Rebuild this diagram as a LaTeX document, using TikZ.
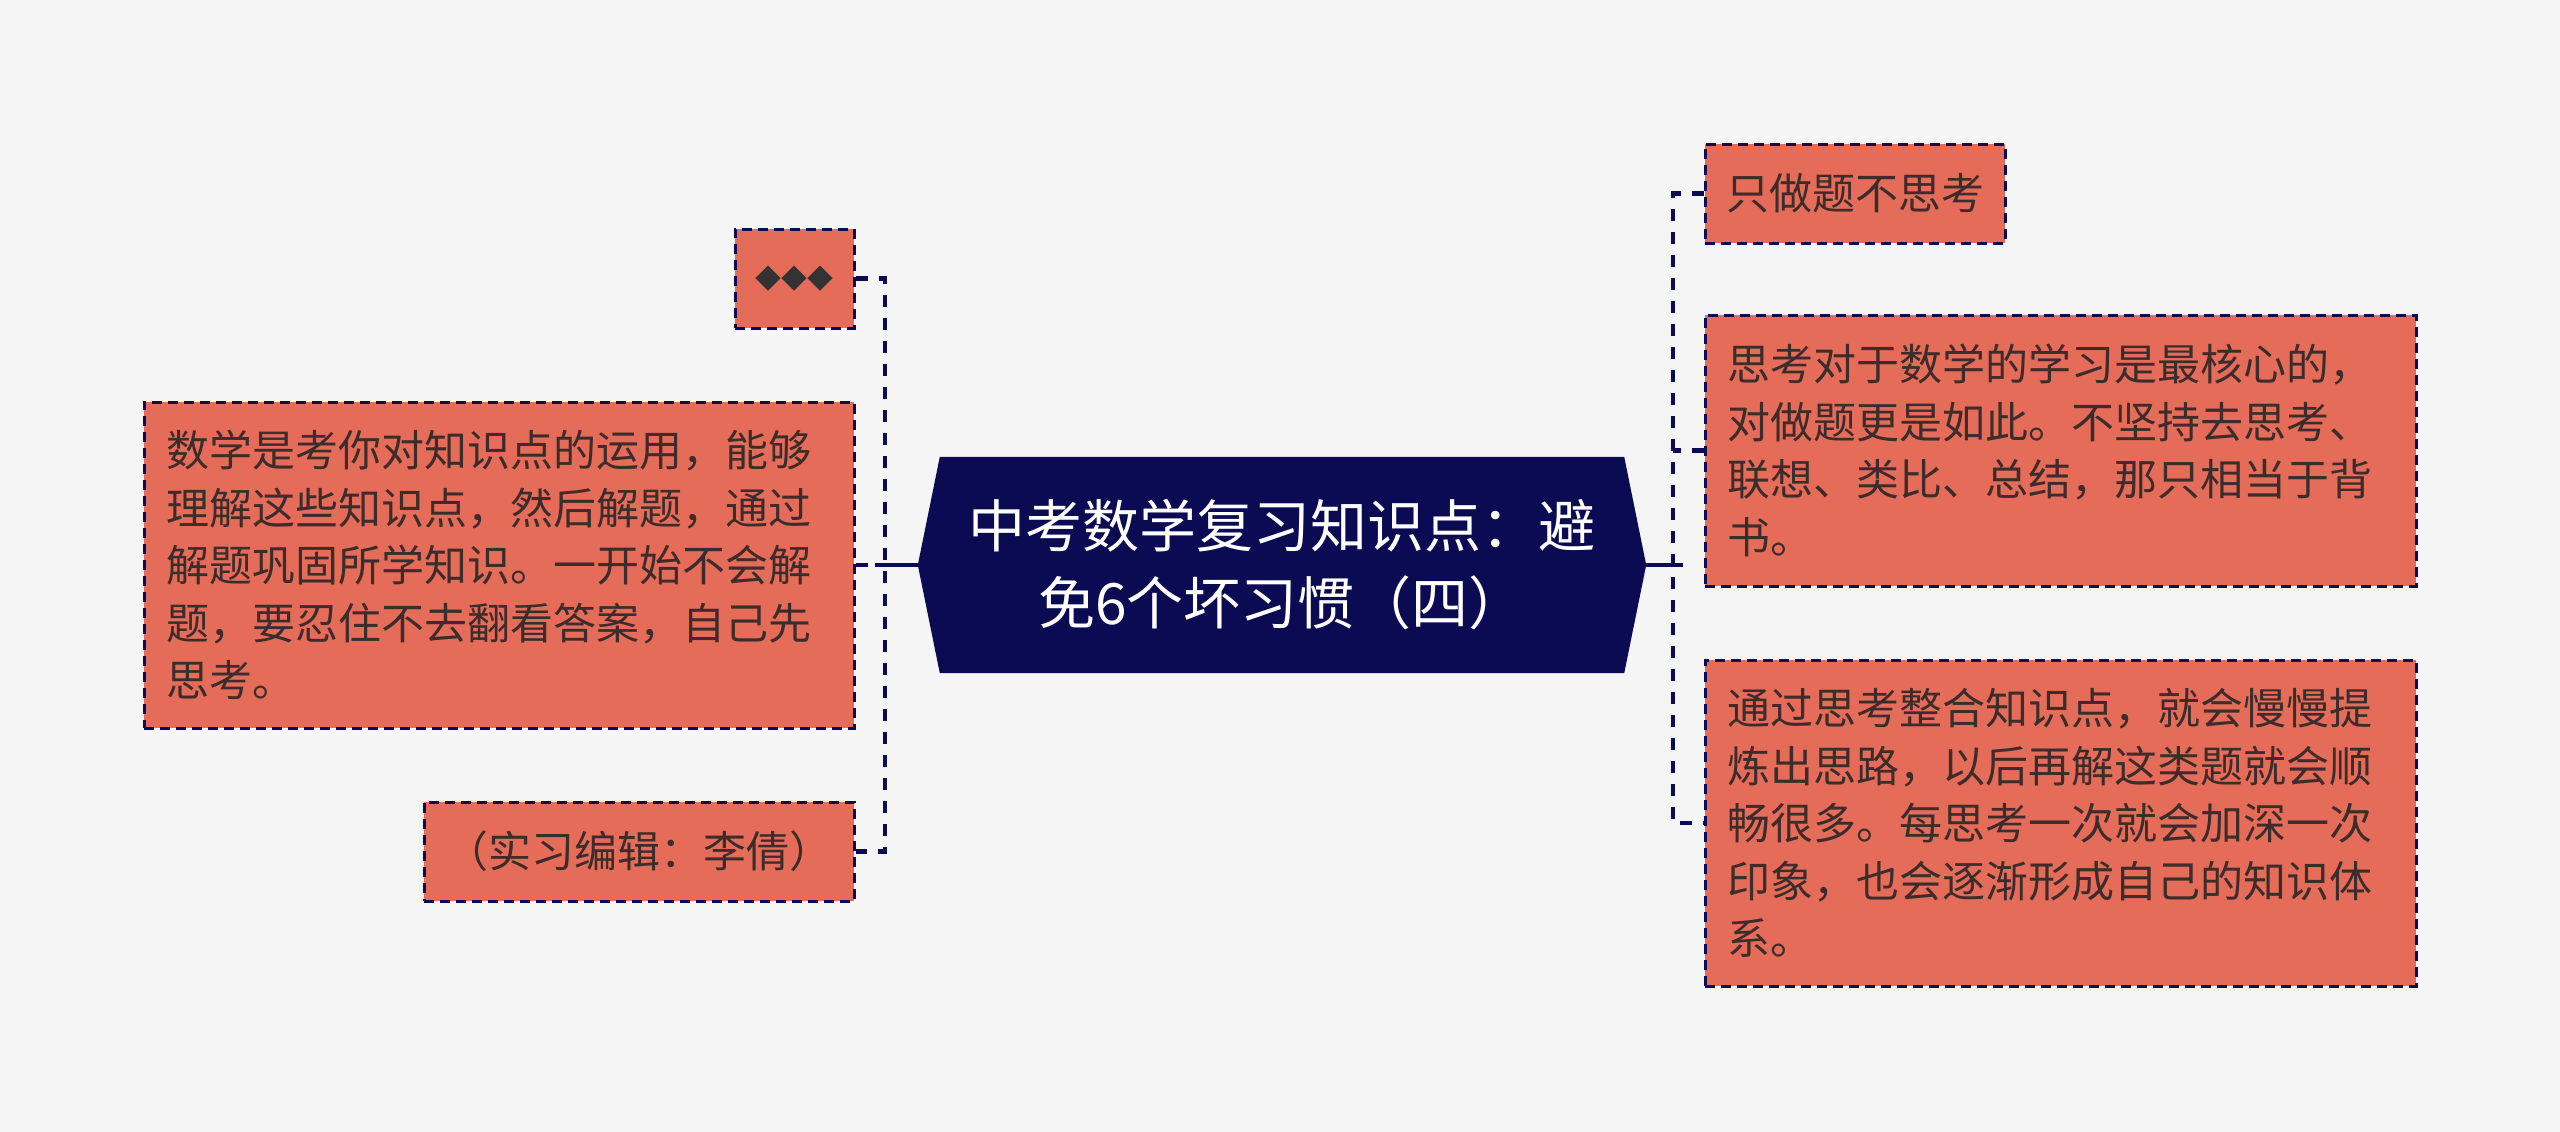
\documentclass[tikz,border=0pt]{standalone}
\usepackage{fontspec}
\newfontfamily\cjk{Noto Sans CJK SC}
\usetikzlibrary{backgrounds}
\definecolor{bg}{RGB}{245,245,245}
\definecolor{boxfill}{RGB}{229,108,88}
\definecolor{navy}{RGB}{10,11,82}
\definecolor{txt}{RGB}{60,44,44}
\definecolor{dia}{RGB}{51,51,51}
\begin{document}
\begin{tikzpicture}[x=1pt,y=-1pt,
 leaf/.style={draw=navy, fill=boxfill, line width=3pt, dash pattern=on 10pt off 6pt, text=txt, font=\cjk\fontsize{43}{57.5}\selectfont, inner sep=0pt, align=left},
 bigleaf/.style={leaf, text width=666pt, minimum width=710pt},
 conn/.style={draw=navy, line width=4.5pt, dash pattern=on 12pt off 11pt},
 spoke/.style={draw=navy, line width=4pt},
 hub/.style={text=white, font=\cjk\fontsize{57}{77}\selectfont, align=center, minimum width=728pt, minimum height=216pt, inner sep=0pt}]
\useasboundingbox (0,0) rectangle (2560,1132);
\node[hub] (c) at (1282,565) {中考数学复习知识点：避\\免6个坏习惯（四）};
\node[leaf, minimum width=119pt, minimum height=99pt, text=dia, font=\cjk\fontsize{26}{26}\selectfont] (dots) at (794.5,278.5) {◆◆◆};
\node[bigleaf, minimum height=326pt] (lbox) at (499,565) {数学是考你对知识点的运用，能够\\理解这些知识点，然后解题，通过\\解题巩固所学知识。一开始不会解\\题，要忍住不去翻看答案，自己先\\思考。};
\node[leaf, minimum width=430pt, minimum height=99pt] (edit) at (639,851.5) {（实习编辑：李倩）};
\node[leaf, minimum width=300pt, minimum height=99pt] (r1) at (1855,193.5) {只做题不思考};
\node[bigleaf, minimum width=711pt, minimum height=271pt] (r2) at (2060.5,450.5) {思考对于数学的学习是最核心的，\\对做题更是如此。不坚持去思考、\\联想、类比、总结，那只相当于背\\书。};
\node[bigleaf, minimum width=711pt, minimum height=326pt] (r3) at (2060.5,823) {通过思考整合知识点，就会慢慢提\\炼出思路，以后再解这类题就会顺\\畅很多。每思考一次就会加深一次\\印象，也会逐渐形成自己的知识体\\系。};
\coordinate (ls) at (885,565);
\coordinate (rs) at (1673,565);
\draw[conn] (dots.east) -| (ls) |- (edit.east);
\draw[conn] (lbox.east) -- (ls);
\draw[spoke, shorten >=-10pt] (c.west) -- (ls);
\draw[conn] (r1.west) -| (rs) |- (r3.west);
\draw[conn] (r2.west) -- (rs |- r2.west);
\draw[spoke, shorten >=-10pt] (c.east) -- (rs);
\begin{scope}[on background layer]
\fill[bg] (0,0) rectangle (2560,1132);
\fill[navy] (c.west) -- ([xshift=22pt]c.north west) -- ([xshift=-22pt]c.north east) -- (c.east) -- ([xshift=-22pt]c.south east) -- ([xshift=22pt]c.south west) -- cycle;
\end{scope}
\end{tikzpicture}
\end{document}
